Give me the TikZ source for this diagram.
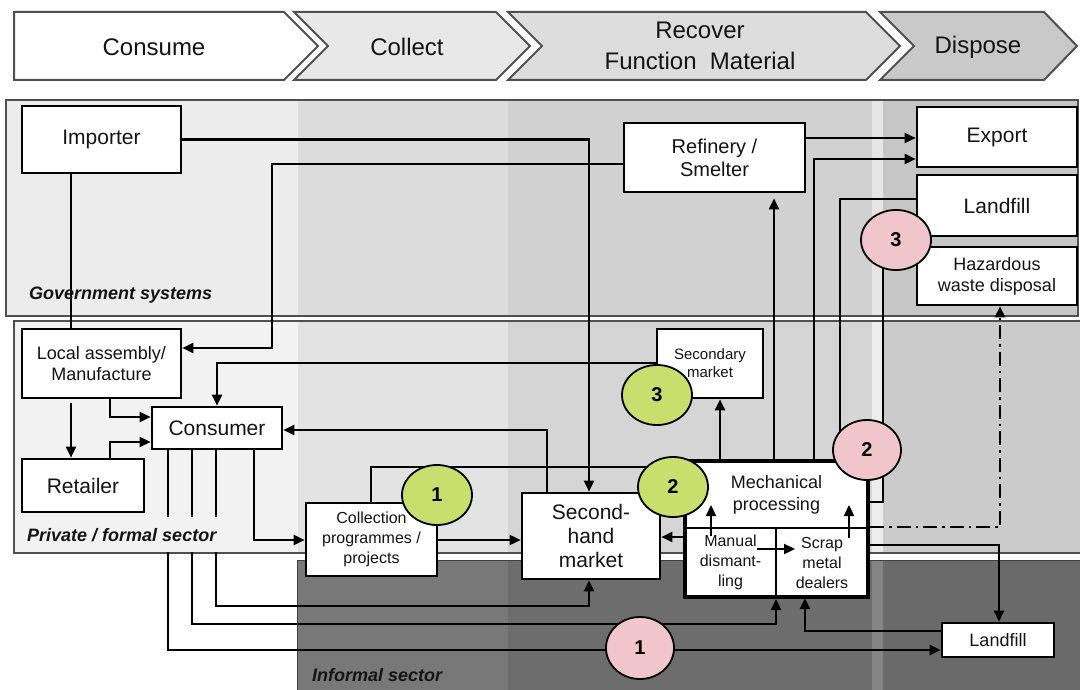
\documentclass[tikz,border=0pt]{standalone}
\usepackage{fontspec}
\setmainfont{Liberation Sans}
\usetikzlibrary{arrows.meta,shapes.geometric}
\definecolor{hcollect}{HTML}{E8E8E8}
\definecolor{hrecover}{HTML}{DDDDDD}
\definecolor{hdispose}{HTML}{C9C9C9}
\definecolor{gA}{HTML}{ECECEC}
\definecolor{gB}{HTML}{DCDCDC}
\definecolor{gC}{HTML}{D1D1D1}
\definecolor{gS}{HTML}{E6E6E6}
\definecolor{gD}{HTML}{C6C6C6}
\definecolor{pA}{HTML}{F2F2F2}
\definecolor{pB}{HTML}{E3E3E3}
\definecolor{pC}{HTML}{D5D5D5}
\definecolor{pS}{HTML}{EDEDED}
\definecolor{pD}{HTML}{CBCBCB}
\definecolor{iB}{HTML}{787878}
\definecolor{iC}{HTML}{6D6D6D}
\definecolor{iS}{HTML}{858585}
\definecolor{iD}{HTML}{6A6A6A}
\definecolor{badgegreen}{HTML}{C8DF6E}
\definecolor{badgepink}{HTML}{F0C6CB}
\definecolor{txt}{HTML}{141414}
\definecolor{frame}{HTML}{505050}
\tikzset{
  hdr/.style={draw=frame, line width=2pt, line join=miter},
  htxt/.style={text=txt, font=\fontsize{24}{31}\selectfont, align=center, inner sep=0pt},
  panel/.style={draw=frame, line width=1.8pt},
  lbl/.style={text=txt, font=\fontsize{18}{18}\selectfont\bfseries\itshape, inner sep=0pt, anchor=west},
  box/.style={draw=black, fill=white, line width=2.6pt, inner sep=0pt, align=center, text=txt},
  conn/.style={line width=2.3pt, draw=black},
  arr/.style={conn, -{Triangle[length=11pt,width=10pt]}},
  badge/.style={ellipse, draw=black, line width=1.8pt, minimum width=70pt, minimum height=60pt, inner sep=0pt, text=black, font=\fontsize{20}{20}\selectfont\bfseries},
  gbadge/.style={badge, fill=badgegreen},
  pbadge/.style={badge, fill=badgepink},
}
\begin{document}
\begin{tikzpicture}[x=1pt,y=-1pt]
\useasboundingbox (0,0) rectangle (1080,690);
\fill[white] (0,0) rectangle (1080,690);

% ---------- header chevrons ----------
\draw[hdr,fill=white] (14,12) -- (284,12) -- (318,46) -- (284,80) -- (14,80) -- cycle;
\draw[hdr,fill=hcollect] (294,12) -- (496,12) -- (530,46) -- (496,80) -- (294,80) -- (328,46) -- cycle;
\draw[hdr,fill=hrecover] (508,12) -- (866,12) -- (900,46) -- (866,80) -- (508,80) -- (542,46) -- cycle;
\draw[hdr,fill=hdispose] (880,12) -- (1044,12) -- (1077,46) -- (1044,80) -- (880,80) -- (914,46) -- cycle;
\node[htxt] (hconsume) at (154,47) {Consume};
\node[htxt] (hcollect) at (407,47) {Collect};
\node[htxt] (hrecover) at (700,46) {Recover\\Function\ \ Material};
\node[htxt] (hdispose) at (978,47) {Dispose};

% ---------- government panel ----------
\fill[gA] (6,100) rectangle (298,316);
\fill[gB] (298,100) rectangle (508,316);
\fill[gC] (508,100) rectangle (872,316);
\fill[gS] (872,100) rectangle (883,316);
\fill[gD] (883,100) rectangle (1078,316);
\draw[panel] (6,100) rectangle (1078,316);

% ---------- private panel ----------
\fill[pA] (14,321) rectangle (298,553);
\fill[pB] (298,321) rectangle (508,553);
\fill[pC] (508,321) rectangle (872,553);
\fill[pS] (872,321) rectangle (883,553);
\fill[pD] (883,321) rectangle (1080,553);
\draw[panel] (1081,321) -- (14,321) -- (14,553) -- (1081,553);

% ---------- informal region ----------
\fill[iB] (297,560) rectangle (508,690);
\fill[iC] (508,560) rectangle (872,690);
\fill[iS] (872,560) rectangle (883,690);
\fill[iD] (883,560) rectangle (1080,690);
\draw[line width=1pt, draw=frame!80!black] (1081,560) -- (297,560) -- (297,691);

% ---------- boxes ----------
\node[box, minimum width=159pt, minimum height=67pt, font=\fontsize{21}{24}\selectfont] (importer) at (101.5,139.5) {Importer};
\node[box, minimum width=181pt, minimum height=69pt, font=\fontsize{20}{23}\selectfont] (refinery) at (714.5,157.5) {Refinery /\\Smelter};
\node[box, minimum width=160pt, minimum height=60pt, font=\fontsize{21}{24}\selectfont] (export) at (997,137) {Export};
\node[box, minimum width=160pt, minimum height=61pt, font=\fontsize{21}{24}\selectfont] (landfillA) at (997,205.5) {Landfill};
\node[box, minimum width=160pt, minimum height=58pt, font=\fontsize{18}{21}\selectfont] (hazard) at (997,276) {Hazardous\\waste disposal};
\node[box, minimum width=159pt, minimum height=69pt, font=\fontsize{18}{21}\selectfont] (local) at (101.5,363.5) {Local assembly/\\Manufacture};
\node[box, minimum width=130pt, minimum height=42pt, font=\fontsize{21}{24}\selectfont] (consumer) at (217,428) {Consumer};
\node[box, minimum width=122pt, minimum height=53pt, font=\fontsize{21}{24}\selectfont] (retailer) at (83,485.5) {Retailer};
\node[box, minimum width=131pt, minimum height=73pt, font=\fontsize{16}{20}\selectfont] (collection) at (371.5,539.5) {Collection\\programmes /\\projects};
\node[box, minimum width=138pt, minimum height=86pt, font=\fontsize{21}{24}\selectfont] (secondhand) at (591,536) {Second-\\hand\\market};
\node[box, minimum width=106pt, minimum height=69pt, font=\fontsize{15}{18}\selectfont] (secondary) at (710,363.5) {Secondary\\market};
\node[box, minimum width=112pt, minimum height=34pt, font=\fontsize{18}{20}\selectfont] (landfillB) at (998,640) {Landfill};

% mechanical processing compound box
\node[box, line width=2.2pt, minimum width=183pt, minimum height=67pt, font=\fontsize{18}{22}\selectfont] (mechtop) at (776.5,494.5) {Mechanical\\processing};
\node[box, line width=2.2pt, minimum width=91pt, minimum height=69pt, font=\fontsize{16}{20}\selectfont] (manual) at (730.5,562.5) {Manual\\dismant-\\ling};
\node[box, line width=2.2pt, minimum width=92pt, minimum height=69pt, font=\fontsize{16}{20}\selectfont] (scrap) at (822,562.5) {Scrap\\metal\\dealers};
\node[draw=black, line width=4pt, minimum width=183pt, minimum height=136pt, inner sep=0pt] (mech) at (776.5,529) {};

% ---------- connectors ----------
% government level
\draw[conn] (importer.south -| 71,0) -- (local.north -| 71,0);
\draw[arr] (importer.east) -| (secondhand.north -| 589,0);
\draw[arr] (refinery.west |- 0,164) -| (272,348) -- (local.east |- 0,348);
\draw[arr] (refinery.east |- 0,138) -- (export.west |- 0,138);
\draw[arr] (mech.north -| 814,0) |- (export.west |- 0,159);
\draw[arr, shorten >=5pt] (mech.north -| 774,0) -- (refinery.south -| 774,0);
\draw[arr] (mech.north -| 720,0) -- (secondary.south -| 720,0);
\coordinate (p2in) at (840,440);
\draw[conn] (p2in) |- (landfillA.west |- 0,199);
\coordinate (p3in) at (883,255);
\draw[conn] (mech.east |- 0,502) -| (p3in);
\draw[arr, dash pattern=on 14pt off 5pt on 2.5pt off 5pt] (mech.east |- 0,527) -| (hazard.south -| 1000,0);

% private level
\draw[arr, shorten <=4pt] (local.south -| 71,0) -- (retailer.north -| 71,0);
\draw[arr] (local.south -| 110,0) |- (consumer.west |- 0,417);
\draw[arr] (retailer.north -| 110,0) |- (consumer.west |- 0,442);
\draw[arr] (secondary.west |- 0,363) -| (consumer.north);
\draw[arr] (secondhand.north -| 547,0) |- (consumer.east |- 0,430);
\draw[conn] (collection.north -| 371,0) |- (mech.west |- 0,467);
\draw[arr] (collection.east |- 0,540) -- (secondhand.west |- 0,540);
\draw[arr] (consumer.south -| 254,0) |- (collection.west |- 0,540);
\draw[arr] (mech.west |- 0,537) -- (secondhand.east |- 0,537);
\coordinate (ma1) at (711,536);
\coordinate (ma2) at (711,505);
\draw[arr] (ma1) -- (ma2);
\coordinate (sc1) at (849,538);
\coordinate (sc2) at (849,505);
\draw[arr] (sc1) -- (sc2);
\coordinate (ms1) at (757,549);
\coordinate (ms2) at (795,549);
\draw[arr] (ms1) -- (ms2);
\draw[arr] (scrap.east |- 0,545) -| (landfillB.north -| 999,0);

% consumer lines to informal sector
\draw[arr] (consumer.south -| 216,0) |- (589,606) -- (secondhand.south -| 589,0);
\draw[arr] (consumer.south -| 192,0) |- (776,624) -- (mech.south -| 776,0);
\draw[arr] (consumer.south -| 168,0) |- (landfillB.west |- 0,650);
\draw[arr] (landfillB.west |- 0,631) -| (scrap.south -| 805,0);

% gap behind label
\fill[pA] (158,517) rectangle (224,551.5);

% ---------- labels ----------
\node[lbl] (govlbl) at (29,295) {Government systems};
\node[lbl] (privlbl) at (27,535) {Private / formal sector};
\node[lbl] (inflbl) at (312,675) {Informal sector};

% ---------- badges ----------
\node[gbadge] (g1) at (437,495) {1};
\node[gbadge] (g2) at (673,487) {2};
\node[gbadge] (g3) at (657,395) {3};
\node[pbadge, minimum width=68pt, minimum height=62pt] (p1) at (640,648) {1};
\node[pbadge, minimum width=68pt] (p2) at (867,450) {2};
\node[pbadge] (p3) at (896,240) {3};
\end{tikzpicture}
\end{document}
